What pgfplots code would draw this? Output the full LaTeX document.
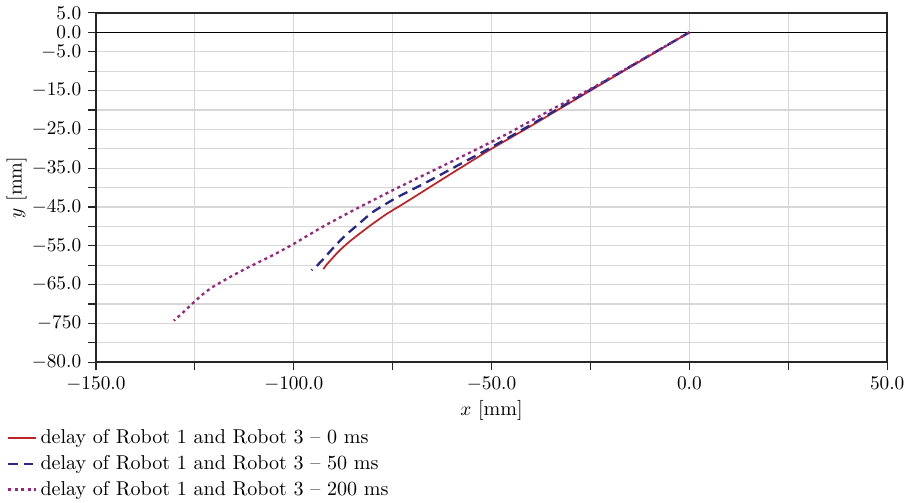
\documentclass[border=0pt]{standalone}
\usepackage{pgfplots}
\pgfplotsset{compat=1.18}
\definecolor{RedA}{RGB}{190,35,40}
\definecolor{BlueB}{RGB}{40,40,135}
\definecolor{PurpC}{RGB}{150,40,125}
\definecolor{GridG}{RGB}{215,215,215}

\begin{document}
\fontsize{10.4}{12.5}\selectfont
\begin{tikzpicture}
\begin{axis}[
  scale only axis, width=410pt, height=181pt,
  xmin=-150, xmax=50, ymin=-85, ymax=5,
  axis line style={line width=1.1pt, black!85},
  xtick={-150,-100,-50,0,50},
  minor xtick={-125,-75,-25,25},
  xticklabel style={/pgf/number format/.cd, fixed, fixed zerofill, precision=1},
  ytick={-85,-75,-65,-55,-45,-35,-25,-15,-5,0,5},
  yticklabels={$-80.0$,$-750$,$-65.0$,$-55.0$,$-45.0$,$-35.0$,$-25.0$,$-15.0$,$-5.0$,$0.0$,$5.0$},
  minor ytick={-80,-70,-60,-50,-40,-30,-20,-10},
  grid=both,
  grid style={GridG, line width=0.6pt},
  minor grid style={GridG, line width=0.6pt},
  tick align=outside, xtick pos=left, ytick pos=left,
  major tick length=4pt, minor tick length=4pt,
  tick style={black!85, line width=0.6pt},
  xlabel={$x$ [mm]}, ylabel={$y$ [mm]},
  xlabel style={yshift=2pt},
  ylabel style={yshift=-4.5pt},
  legend style={at={(-0.113,-0.18)}, anchor=north west, draw=none, fill=none,
    inner sep=0pt, row sep=0.5pt, legend cell align=left},
  legend image code/.code={\draw[#1] (0cm,0cm) -- (0.5cm,0cm);},
]
\addplot[black, line width=0.8pt, forget plot] coordinates {(-150,0) (50,0)};
\addplot[RedA, line width=0.9pt, smooth, tension=0.4] coordinates {
(0,0) (-10,-6) (-25,-15) (-40,-24.1) (-50,-30) (-57,-34.4) (-65,-39.5) (-72,-44)
(-76.5,-46.8) (-80,-49.3) (-83,-51.6) (-86,-54) (-88.5,-56.3) (-90.5,-58.5) (-91.8,-60) (-92.5,-61)};
\addlegendentry{delay of Robot 1 and Robot 3 -- 0 ms}
\addplot[BlueB, line width=1.2pt, dash pattern=on 5pt off 3pt, smooth, tension=0.4] coordinates {
(0,0) (-10,-5.9) (-25,-14.8) (-40,-23.8) (-50,-29.6) (-58,-34) (-66,-38.4) (-74,-42.6)
(-80,-46.3) (-83.5,-49.3) (-87,-52.4) (-89.8,-55.3) (-92.4,-58.3) (-94.3,-60.3) (-95.5,-61.3)};
\addlegendentry{delay of Robot 1 and Robot 3 -- 50 ms}
\addplot[PurpC, line width=1.2pt, dash pattern=on 1.6pt off 1.8pt, smooth, tension=0.4] coordinates {
(0,0) (-10,-5.9) (-25,-14.6) (-35,-20) (-45,-25.6) (-52.5,-29.5) (-63.5,-35) (-73.6,-40)
(-83.3,-45) (-92.5,-50) (-100.5,-54.8) (-106,-57.8) (-111.4,-60.5) (-116,-63) (-120.3,-65.5)
(-123,-67.5) (-125.7,-70) (-128,-72.2) (-130.3,-74.3)};
\addlegendentry{delay of Robot 1 and Robot 3 -- 200 ms}
\end{axis}
\end{tikzpicture}
\end{document}
